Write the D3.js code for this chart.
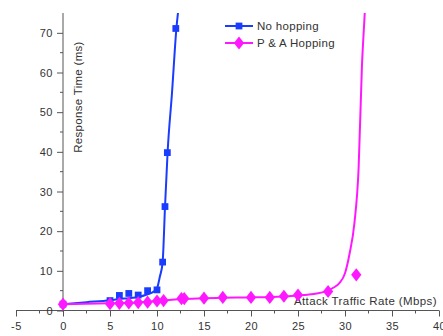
<!DOCTYPE html>
<html>
<head>
<meta charset="utf-8">
<script src="https://cdn.jsdelivr.net/npm/d3@7"></script>
<style>
  html, body { margin: 0; padding: 0; background: #fff; }
  svg { display: block; font-family: "Liberation Sans", Arial, sans-serif; }
</style>
</head>
<body>
<div id="chart"></div>
<script>
// measured points
const noHopX = [0, 5, 6, 7, 8, 9, 10, 10.6, 10.85, 11.1, 12];
const noHopY = [1.6, 2.5, 3.8, 4.3, 3.9, 5.0, 5.2, 12.2, 26.2, 39.8, 71.1];
const hopX = [0, 5, 6, 7, 8, 9, 10, 10.7, 12.6, 12.9, 15, 17, 20, 22, 23.5, 25, 28.2, 31.2];
const hopY = [1.6, 1.7, 1.8, 1.9, 2.0, 2.1, 2.4, 2.5, 3.0, 3.0, 3.1, 3.3, 3.3, 3.3, 3.6, 3.9, 4.8, 9.0];

// fitted curves as drawn in the figure
const noHopFitX = [0, 2.5, 5, 6, 7, 8, 9, 9.6, 10, 10.3, 10.6, 10.85, 11.13, 11.6, 12.06, 12.5];
const noHopFitY = [1.6, 2.1, 2.6, 2.9, 3.1, 3.4, 4.1, 4.7, 5.6, 8.5, 12.2, 26, 40, 55, 71, 80];
const hopFitX = [0, 5, 8, 10, 12.8, 15, 17, 20, 22, 24, 25, 26, 27, 28, 28.8, 29.4, 30, 30.5, 31.0, 31.45, 31.8, 32.1, 32.3];
const hopFitY = [1.6, 1.8, 2.0, 2.4, 2.9, 3.1, 3.2, 3.3, 3.4, 3.6, 3.8, 4.0, 4.3, 4.9, 5.8, 6.9, 9.4, 14.5, 22, 36, 61.5, 75, 85];

const xTicks = [-5, 0, 5, 10, 15, 20, 25, 30, 35, 40];
const yTicks = [0, 10, 20, 30, 40, 50, 60, 70];
const seriesNames = ["No hopping", "P & A Hopping"];

const width = 443, height = 336;
const blue = "#1a3cff", pink = "#ff18ff", axisColor = "#555", textColor = "#333";

const svg = d3.select("#chart").append("svg")
    .attr("width", width)
    .attr("height", height);

const x = d3.scaleLinear().domain([-5, 40]).range([16, 439]);
const y = d3.scaleLinear().domain([0, 75]).range([310.5, 13]);

// axes
const xAxis = d3.axisBottom(x).tickValues(xTicks).tickSize(6).tickPadding(6).tickFormat((d) => String(d));
const xg = svg.append("g").attr("transform", `translate(0,${y(0)})`).call(xAxis);
xg.selectAll(".minor")
    .data(d3.range(-2.5, 40, 5))
    .enter()
    .append("line")
    .attr("class", "minor")
    .attr("x1", (d) => x(d)).attr("x2", (d) => x(d))
    .attr("y1", 0).attr("y2", 3)
    .attr("stroke", axisColor);
xg.select(".domain").attr("d", `M${x(-5)},0H${x(40)}`);

const yAxis = d3.axisLeft(y).tickValues(yTicks).tickSize(6).tickPadding(4).tickFormat((d) => String(d));
const yg = svg.append("g").attr("transform", `translate(${x(0)},0)`).call(yAxis);
yg.selectAll(".minor")
    .data(d3.range(5, 75, 10))
    .enter()
    .append("line")
    .attr("class", "minor")
    .attr("x1", -3).attr("x2", 0)
    .attr("y1", (d) => y(d)).attr("y2", (d) => y(d))
    .attr("stroke", axisColor);
yg.select(".domain").attr("d", `M0,${y(75)}V${y(0) + 1}`);

svg.selectAll(".domain, .tick line").attr("stroke", axisColor);
svg.selectAll(".tick text")
    .attr("fill", textColor)
    .style("font-size", "11px")
    .style("letter-spacing", "0.5px")
    .style("font-family", "'Liberation Sans', Arial, sans-serif");

// axis titles inside the plot
svg.append("text")
    .attr("x", 437).attr("y", 305)
    .attr("text-anchor", "end")
    .attr("fill", textColor)
    .style("font-size", "11.5px")
    .style("letter-spacing", "0.4px")
    .text("Attack Traffic Rate (Mbps)");

svg.append("text")
    .attr("transform", `translate(82,97) rotate(-90)`)
    .attr("text-anchor", "middle")
    .attr("fill", textColor)
    .style("font-size", "11.5px")
    .style("letter-spacing", "0.3px")
    .text("Response Time (ms)");

// clip the fitted curves at the top of the frame
svg.append("clipPath").attr("id", "plotClip")
    .append("rect")
    .attr("x", x(-5)).attr("y", y(75))
    .attr("width", x(40) - x(-5)).attr("height", y(0) - y(75));

const line = d3.line()
    .x((d) => x(d[0]))
    .y((d) => y(d[1]))
    .curve(d3.curveMonotoneX);

const plot = svg.append("g").attr("clip-path", "url(#plotClip)");

plot.append("path")
    .datum(d3.zip(noHopFitX, noHopFitY))
    .attr("fill", "none")
    .attr("stroke", blue)
    .attr("stroke-width", 2)
    .attr("d", line);

plot.append("path")
    .datum(d3.zip(hopFitX, hopFitY))
    .attr("fill", "none")
    .attr("stroke", pink)
    .attr("stroke-width", 2)
    .attr("d", line);

const square = d3.symbol().type(d3.symbolSquare).size(46);
const diamond = d3.symbol().type(d3.symbolDiamond).size(50);

svg.append("g").selectAll("path")
    .data(d3.zip(noHopX, noHopY))
    .join("path")
    .attr("transform", (d) => `translate(${x(d[0])},${y(d[1])})`)
    .attr("d", square)
    .attr("fill", blue);

svg.append("g").selectAll("path")
    .data(d3.zip(hopX, hopY))
    .join("path")
    .attr("transform", (d) => `translate(${x(d[0])},${y(d[1])}) scale(1.35,1)`)
    .attr("d", diamond)
    .attr("fill", pink);

// legend
const legend = svg.append("g");
const legendRows = [
    { name: seriesNames[0], color: blue, symbol: square, sx: 1, y: 26 },
    { name: seriesNames[1], color: pink, symbol: diamond, sx: 1.35, y: 43 }
];
legendRows.forEach((row) => {
    legend.append("line")
        .attr("x1", 225).attr("x2", 253)
        .attr("y1", row.y).attr("y2", row.y)
        .attr("stroke", row.color)
        .attr("stroke-width", 2);
    legend.append("path")
        .attr("transform", `translate(239,${row.y}) scale(${row.sx},1)`)
        .attr("d", row.symbol)
        .attr("fill", row.color);
    legend.append("text")
        .attr("x", 257).attr("y", row.y + 4)
        .attr("fill", textColor)
        .style("font-size", "11.5px")
        .style("letter-spacing", "0.3px")
        .text(row.name);
});
</script>
</body>
</html>
